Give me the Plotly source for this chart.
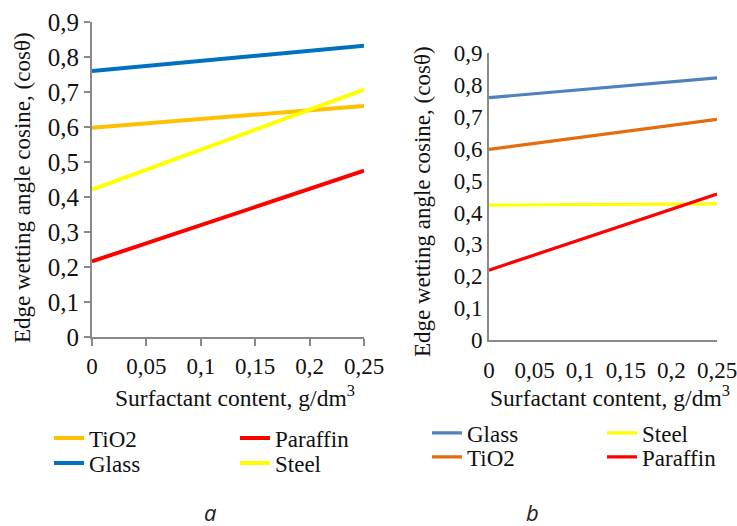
import plotly.graph_objects as go

W, H = 737, 526

# surfactant content, g/dm3
conc = [0, 0.25]

# panel a
a_tio2 = [0.598, 0.660]
a_paraffin = [0.216, 0.475]
a_glass = [0.760, 0.832]
a_steel = [0.421, 0.707]

# panel b
b_glass = [0.760, 0.822]
b_steel = [0.423, 0.427]
b_tio2 = [0.598, 0.692]
b_paraffin = [0.219, 0.458]

x_ticks = [0, 0.05, 0.1, 0.15, 0.2, 0.25]
x_labels = ["0", "0,05", "0,1", "0,15", "0,2", "0,25"]
y_ticks = [0, 0.1, 0.2, 0.3, 0.4, 0.5, 0.6, 0.7, 0.8, 0.9]
y_labels = ["0", "0,1", "0,2", "0,3", "0,4", "0,5", "0,6", "0,7", "0,8", "0,9"]


def px(x):
    return x / W


def py(y):
    return 1 - y / H


serif = "Liberation Serif"
gray = "#898989"

fig = go.Figure()

# panel a traces, one legend box per entry so rows sit like the original
fig.add_trace(go.Scatter(x=conc, y=a_tio2, mode="lines", name="TiO2",
                         line=dict(color="#FFC000", width=4), legend="legend"))
fig.add_trace(go.Scatter(x=conc, y=a_glass, mode="lines", name="Glass",
                         line=dict(color="#0070C0", width=4), legend="legend2"))
fig.add_trace(go.Scatter(x=conc, y=a_paraffin, mode="lines", name="Paraffin",
                         line=dict(color="#FF0000", width=4), legend="legend3"))
fig.add_trace(go.Scatter(x=conc, y=a_steel, mode="lines", name="Steel",
                         line=dict(color="#FFFF00", width=4), legend="legend4"))

# panel b traces
fig.add_trace(go.Scatter(x=conc, y=b_glass, mode="lines", name="Glass",
                         line=dict(color="#4F81BD", width=3.2), legend="legend5",
                         xaxis="x2", yaxis="y2"))
fig.add_trace(go.Scatter(x=conc, y=b_tio2, mode="lines", name="TiO2",
                         line=dict(color="#E46C0A", width=3.2), legend="legend6",
                         xaxis="x2", yaxis="y2"))
fig.add_trace(go.Scatter(x=conc, y=b_steel, mode="lines", name="Steel",
                         line=dict(color="#FFFF00", width=3.2), legend="legend7",
                         xaxis="x2", yaxis="y2"))
fig.add_trace(go.Scatter(x=conc, y=b_paraffin, mode="lines", name="Paraffin",
                         line=dict(color="#FF0000", width=3.2), legend="legend8",
                         xaxis="x2", yaxis="y2"))
fig.update_traces(showlegend=True)

axis_common = dict(showgrid=False, zeroline=False, showline=True, linecolor=gray,
                   linewidth=2, automargin=False, ticklabeloverflow="allow",
                   tickfont=dict(family=serif, size=23, color="#111"))

legend_common = dict(font=dict(family=serif, size=23, color="#111"), bgcolor="rgba(0,0,0,0)",
                     xanchor="left", yanchor="middle", itemwidth=30)

fig.update_layout(
    template="none",
    width=W, height=H,
    showlegend=True,
    margin=dict(l=0, r=0, t=0, b=0, autoexpand=False),
    font=dict(family=serif, color="#111"),
    plot_bgcolor="white", paper_bgcolor="white",
    xaxis=dict(domain=[px(92), px(364)], range=[0, 0.25], tickvals=x_ticks, ticktext=x_labels,
               ticks="outside", ticklen=7, tickcolor=gray, tickwidth=1.5, anchor="y", **axis_common),
    yaxis=dict(domain=[py(337), py(22)], range=[0, 0.9], tickvals=y_ticks, ticktext=y_labels,
               ticks="outside", ticklen=6, tickcolor=gray, tickwidth=1.5, anchor="x",
               **{**axis_common, "tickfont": dict(family=serif, size=25, color="#111")}),
    xaxis2=dict(domain=[px(489), px(717)], range=[0, 0.25], tickvals=x_ticks, ticktext=x_labels,
                ticks="", anchor="y2", ticklabelstandoff=8, **axis_common),
    yaxis2=dict(domain=[py(340), py(53)], range=[0, 0.9], tickvals=y_ticks, ticktext=y_labels,
                ticks="", anchor="x2", **axis_common),
    legend=dict(x=px(49), y=py(438), **legend_common),
    legend2=dict(x=px(49), y=py(463), **legend_common),
    legend3=dict(x=px(235), y=py(438), **legend_common),
    legend4=dict(x=px(235), y=py(463), **legend_common),
    legend5=dict(x=px(427), y=py(433), **legend_common),
    legend6=dict(x=px(427), y=py(457), **legend_common),
    legend7=dict(x=px(602), y=py(433), **legend_common),
    legend8=dict(x=px(602), y=py(457), **legend_common),
)

title_font = dict(family=serif, size=23, color="#111")
for tx, ty in [(23, 188), (422, 201)]:
    fig.add_annotation(x=px(tx), y=py(ty), xref="paper", yref="paper", textangle=-90,
                       xanchor="center", yanchor="middle",
                       text="Edge wetting angle cosine, (cosθ)", showarrow=False, font=title_font)
for tx in [235, 610]:
    fig.add_annotation(x=px(tx), y=py(396), xref="paper", yref="paper",
                       xanchor="center", yanchor="middle",
                       text="Surfactant content, g/dm<sup>3</sup>", showarrow=False,
                       font=dict(family=serif, size=23.5, color="#111"))

panel_font = dict(family="Open Sans", size=22, color="#222", style="italic")
fig.add_annotation(x=px(210), y=py(528), xref="paper", yref="paper", text="a", borderpad=0,
                   xanchor="center", yanchor="bottom", showarrow=False, font=panel_font)
fig.add_annotation(x=px(532), y=py(528), xref="paper", yref="paper", text="b", borderpad=0,
                   xanchor="center", yanchor="bottom", showarrow=False, font=panel_font)

fig.write_html("out.html", config={"displayModeBar": False},
               post_script="document.body.style.margin='0';")
